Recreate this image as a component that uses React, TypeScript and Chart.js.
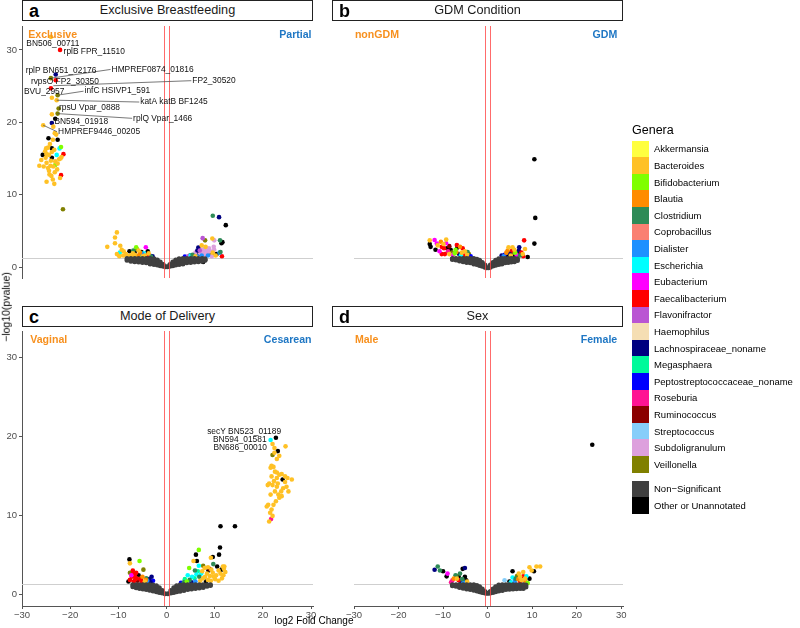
import React, { useEffect, useRef } from 'react';
import { Chart, registerables } from 'chart.js';
Chart.register(...registerables);

const FONT = '"Liberation Sans", Arial, Helvetica, sans-serif';

const GENERA = ['Akkermansia', 'Bacteroides', 'Bifidobacterium', 'Blautia', 'Clostridium', 'Coprobacillus', 'Dialister', 'Escherichia', 'Eubacterium', 'Faecalibacterium', 'Flavonifractor', 'Haemophilus', 'Lachnospiraceae_noname', 'Megasphaera', 'Peptostreptococcaceae_noname', 'Roseburia', 'Ruminococcus', 'Streptococcus', 'Subdoligranulum', 'Veillonella'];
const GENUS_CODES = ['Akk', 'Bac', 'Bif', 'Bla', 'Clo', 'Cop', 'Dia', 'Esc', 'Eub', 'Fae', 'Fla', 'Hae', 'Lac', 'Meg', 'Pep', 'Ros', 'Rum', 'Str', 'Sub', 'Vei'];
const GENUS_COLORS = ['#FFFF40', '#FFC125', '#7FFF00', '#FF8C00', '#2E8B57', '#FA8072', '#1E90FF', '#00FFFF', '#FF00FF', '#FF0000', '#BA55D3', '#F5DEB3', '#000080', '#00FA9A', '#0000FF', '#FF1493', '#8B0000', '#87CEFA', '#DDA0DD', '#808000'];
const EXTRA_KEYS = ['Non\u2212Significant', 'Other or Unannotated'];
const EXTRA_COLORS = ['#404040', '#000000'];

const X_TICKS = [-30, -20, -10, 0, 10, 20, 30];
const Y_TICKS = [0, 10, 20, 30];
const FC_CUTOFFS = [-0.585, 0.585];
const P_CUTOFF = 1.3;

type GP = [number, number];
type Pt = [number, number, string];
type Lab = [string, number, number, number, number, boolean];

// ---------- non-significant (grey) points ----------
const GREY_A: GP[] = [
  [-8.2, 1.2], [-8.2, 0.95], [-7.4, 1.2], [-7.4, 0.95], [-7.4, 0.8], [-6.6, 1.2], [-6.6, 0.95], [-6.6, 0.75],
  [-5.8, 1.2], [-5.8, 0.95], [-5.8, 0.7], [-5.0, 1.2], [-5.0, 0.9], [-5.0, 0.65], [-4.2, 1.2], [-4.2, 0.9], [-4.2, 0.6],
  [-3.4, 1.2], [-3.4, 0.9], [-3.4, 0.6], [-3.4, 0.45], [-2.6, 1.15], [-2.6, 0.85], [-2.6, 0.6], [-2.6, 0.38],
  [-1.9, 1.0], [-1.9, 0.7], [-1.9, 0.45], [-1.9, 0.28], [-1.3, 0.7], [-1.3, 0.45], [-1.3, 0.2], [-0.7, 0.38], [-0.7, 0.12],
  [-0.2, 0.05], [0.2, 0.05], [0.7, 0.38], [0.7, 0.12], [1.3, 0.7], [1.3, 0.45], [1.3, 0.2],
  [1.9, 1.0], [1.9, 0.7], [1.9, 0.45], [1.9, 0.28], [2.6, 1.15], [2.6, 0.85], [2.6, 0.6], [2.6, 0.38],
  [3.4, 1.2], [3.4, 0.9], [3.4, 0.6], [3.4, 0.45], [4.2, 1.2], [4.2, 0.9], [4.2, 0.6], [5.0, 1.2], [5.0, 0.9], [5.0, 0.65],
  [5.8, 1.2], [5.8, 0.95], [5.8, 0.7], [6.6, 1.2], [6.6, 0.95], [6.6, 0.75], [7.4, 1.2], [7.4, 0.95], [7.4, 0.8],
  [8.0, 1.15], [8.0, 0.95],
];
const GREY_B: GP[] = [
  [-7.9, 1.2], [-7.9, 1.05], [-7.1, 1.2], [-7.1, 1.0], [-6.3, 1.2], [-6.3, 0.95], [-6.3, 0.85],
  [-5.5, 1.2], [-5.5, 0.95], [-5.5, 0.75], [-4.7, 1.2], [-4.7, 0.9], [-4.7, 0.65], [-3.9, 1.2], [-3.9, 0.9], [-3.9, 0.6],
  [-3.1, 1.2], [-3.1, 0.9], [-3.1, 0.6], [-3.1, 0.45], [-2.4, 1.1], [-2.4, 0.85], [-2.4, 0.6], [-2.4, 0.35],
  [-1.8, 0.95], [-1.8, 0.7], [-1.8, 0.45], [-1.8, 0.22], [-1.2, 0.65], [-1.2, 0.4], [-1.2, 0.12], [-0.6, 0.3], [-0.6, 0.0],
  [-0.2, -0.1], [0.2, -0.1], [0.6, 0.3], [0.6, 0.0], [1.2, 0.65], [1.2, 0.4], [1.2, 0.15],
  [1.8, 0.95], [1.8, 0.7], [1.8, 0.45], [1.8, 0.25], [2.5, 1.15], [2.5, 0.85], [2.5, 0.6], [2.5, 0.38],
  [3.2, 1.2], [3.2, 0.9], [3.2, 0.6], [3.2, 0.45], [3.9, 1.2], [3.9, 0.9], [3.9, 0.6], [4.6, 1.2], [4.6, 0.9], [4.6, 0.65],
  [5.3, 1.2], [5.3, 0.95], [5.3, 0.7], [6.0, 1.2], [6.0, 0.95], [6.0, 0.75], [6.7, 1.15], [6.7, 0.9],
];
const GREY_C: GP[] = [
  [-7.0, 1.2], [-7.0, 0.95], [-6.3, 1.2], [-6.3, 0.95], [-6.3, 0.8], [-5.6, 1.2], [-5.6, 0.95], [-5.6, 0.72],
  [-4.9, 1.2], [-4.9, 0.9], [-4.9, 0.65], [-4.2, 1.2], [-4.2, 0.9], [-4.2, 0.6], [-3.5, 1.2], [-3.5, 0.9], [-3.5, 0.6], [-3.5, 0.48],
  [-2.8, 1.15], [-2.8, 0.85], [-2.8, 0.6], [-2.8, 0.4], [-2.1, 1.05], [-2.1, 0.78], [-2.1, 0.5], [-2.1, 0.3],
  [-1.5, 0.8], [-1.5, 0.5], [-1.5, 0.22], [-0.9, 0.45], [-0.9, 0.15], [-0.3, 0.05], [0.3, 0.05], [0.9, 0.45], [0.9, 0.15],
  [1.5, 0.8], [1.5, 0.5], [1.5, 0.22], [2.1, 1.05], [2.1, 0.78], [2.1, 0.5], [2.1, 0.3],
  [2.8, 1.15], [2.8, 0.85], [2.8, 0.6], [2.8, 0.38], [3.6, 1.2], [3.6, 0.9], [3.6, 0.6], [3.6, 0.45],
  [4.4, 1.2], [4.4, 0.9], [4.4, 0.6], [5.2, 1.2], [5.2, 0.9], [5.2, 0.65], [6.0, 1.2], [6.0, 0.95], [6.0, 0.7],
  [6.8, 1.2], [6.8, 0.95], [6.8, 0.78], [7.6, 1.2], [7.6, 1.0], [7.6, 0.85], [8.4, 1.2], [8.4, 1.0], [9.1, 1.2], [9.1, 1.08],
];
const GREY_D: GP[] = [
  [-7.9, 1.2], [-7.9, 1.05], [-7.1, 1.2], [-7.1, 1.0], [-6.3, 1.2], [-6.3, 0.95], [-6.3, 0.85],
  [-5.5, 1.2], [-5.5, 0.95], [-5.5, 0.75], [-4.7, 1.2], [-4.7, 0.9], [-4.7, 0.65], [-3.9, 1.2], [-3.9, 0.9], [-3.9, 0.6],
  [-3.1, 1.2], [-3.1, 0.9], [-3.1, 0.6], [-3.1, 0.48], [-2.4, 1.1], [-2.4, 0.85], [-2.4, 0.6], [-2.4, 0.4],
  [-1.8, 0.95], [-1.8, 0.7], [-1.8, 0.45], [-1.8, 0.3], [-1.2, 0.65], [-1.2, 0.4], [-1.2, 0.2], [-0.6, 0.35], [-0.6, 0.15],
  [-0.2, 0.1], [0.2, 0.1], [0.6, 0.35], [0.6, 0.15], [1.2, 0.65], [1.2, 0.4], [1.2, 0.2],
  [1.8, 0.95], [1.8, 0.7], [1.8, 0.45], [1.8, 0.3], [2.5, 1.15], [2.5, 0.85], [2.5, 0.6], [2.5, 0.4],
  [3.3, 1.2], [3.3, 0.9], [3.3, 0.6], [3.3, 0.45], [4.1, 1.2], [4.1, 0.9], [4.1, 0.6], [4.9, 1.2], [4.9, 0.9], [4.9, 0.62],
  [5.7, 1.2], [5.7, 0.95], [5.7, 0.65], [6.5, 1.2], [6.5, 0.95], [6.5, 0.68], [7.3, 1.2], [7.3, 0.95], [7.3, 0.7],
  [8.0, 1.2], [8.0, 0.95], [8.0, 0.72], [8.6, 1.15], [8.6, 0.9],
];

// ---------- significant points [log2FC, -log10 p, genus] ----------
const PTS_A: Pt[] = [
  [-24.0, 31.8, 'Bac'], [-22.1, 30.0, 'Fae'], [-23.0, 26.6, 'Lac'], [-24.0, 26.1, 'Vei'], [-23.0, 25.8, 'Fae'],
  [-24.0, 24.7, 'Fae'], [-22.6, 23.75, 'Vei'], [-23.8, 23.4, 'Bac'], [-22.8, 23.05, 'Bac'], [-22.4, 21.9, 'Vei'],
  [-22.6, 21.2, 'Vei'], [-23.8, 21.1, 'Bac'], [-23.1, 20.5, 'Oth'], [-23.8, 19.9, 'Lac'], [-25.6, 19.6, 'Bac'],
  [-23.5, 19.4, 'Bac'], [-22.9, 18.3, 'Bac'], [-23.2, 18.5, 'Bac'], [-24.5, 17.8, 'Oth'], [-22.6, 17.6, 'Oth'],
  [-23.6, 17.6, 'Bac'], [-24.2, 17.0, 'Bac'], [-25.0, 16.4, 'Bac'], [-21.9, 16.6, 'Bif'], [-22.2, 16.4, 'Esc'],
  [-26.4, 14.0, 'Bac'], [-26.0, 14.8, 'Bac'], [-25.7, 15.5, 'Oth'], [-25.2, 16.0, 'Bac'], [-24.6, 16.5, 'Bac'],
  [-23.8, 16.4, 'Oth'], [-24.9, 15.6, 'Bac'], [-24.4, 15.5, 'Bac'], [-23.8, 15.9, 'Bac'], [-23.3, 16.2, 'Bac'],
  [-23.8, 15.1, 'Oth'], [-22.8, 15.5, 'Esc'], [-21.4, 15.6, 'Fae'], [-21.8, 15.2, 'Bac'], [-22.3, 14.9, 'Bac'],
  [-23.1, 14.1, 'Bif'], [-23.1, 14.6, 'Bac'], [-22.6, 14.3, 'Bac'], [-23.5, 13.9, 'Bac'], [-24.1, 14.0, 'Bac'],
  [-24.6, 13.7, 'Bac'], [-25.5, 13.9, 'Bac'], [-24.9, 14.4, 'Bac'], [-24.0, 14.7, 'Bac'], [-25.1, 15.1, 'Bac'],
  [-22.0, 15.0, 'Bac'], [-24.3, 12.8, 'Bac'], [-21.9, 12.7, 'Fae'], [-22.1, 12.3, 'Bac'], [-24.9, 11.8, 'Bac'],
  [-23.6, 12.1, 'Bac'], [-23.3, 11.5, 'Bac'], [-23.9, 12.6, 'Bac'], [-24.4, 13.3, 'Bac'], [-22.7, 13.5, 'Bac'],
  [-23.2, 13.1, 'Bac'], [-21.5, 8.0, 'Vei'],
  [-12.3, 2.8, 'Bac'], [-10.3, 4.8, 'Bac'], [-10.7, 4.1, 'Bac'], [-10.7, 3.3, 'Bac'], [-9.6, 2.95, 'Bac'],
  [-9.3, 2.4, 'Bac'], [-8.9, 2.2, 'Bac'], [-10.3, 1.8, 'Bac'], [-9.7, 2.0, 'Esc'], [-9.0, 1.6, 'Bac'],
  [-9.8, 1.5, 'Bac'], [-7.7, 2.2, 'Oth'], [-6.3, 2.75, 'Bif'], [-6.2, 2.5, 'Vei'], [-4.3, 2.75, 'Eub'],
  [-3.9, 2.2, 'Oth'], [-5.5, 2.0, 'Bla'], [-5.0, 1.8, 'Dia'], [-2.9, 1.5, 'Lac'], [-7.0, 1.9, 'Bac'],
  [-6.6, 1.7, 'Bac'], [-7.5, 1.6, 'Bac'], [-8.0, 1.5, 'Bac'], [-5.9, 1.6, 'Bla'], [-4.7, 1.9, 'Esc'],
  [-4.5, 1.6, 'Bac'], [-5.2, 2.1, 'Oth'], [-4.0, 1.7, 'Fae'], [-3.5, 1.6, 'Pep'], [-6.9, 2.3, 'Clo'],
  [-8.4, 1.8, 'Bac'], [-6.6, 2.1, 'Oth'], [-5.8, 2.3, 'Bac'], [-3.2, 1.45, 'Clo'], [-4.9, 1.5, 'Bac'],
  [-6.2, 1.5, 'Dia'], [-7.3, 1.45, 'Bac'], [-5.3, 1.5, 'Meg'], [-3.7, 1.9, 'Bac'],
  [9.6, 7.1, 'Clo'], [10.9, 6.9, 'Lac'], [12.3, 5.8, 'Oth'], [7.5, 4.0, 'Fla'], [8.0, 3.7, 'Vei'],
  [9.5, 3.96, 'Bac'], [9.9, 3.7, 'Sub'], [11.1, 3.7, 'Clo'], [11.4, 3.3, 'Oth'], [11.6, 3.45, 'Oth'],
  [11.5, 1.5, 'Fae'], [10.4, 1.8, 'Oth'], [9.4, 1.9, 'Oth'], [11.0, 2.0, 'Dia'], [11.2, 2.1, 'Clo'],
  [7.6, 0.7, 'Oth'], [8.0, 1.0, 'Oth'], [6.6, 2.7, 'Lac'], [7.3, 3.0, 'Bac'], [7.2, 2.4, 'Sub'],
  [7.8, 2.5, 'Sub'], [8.3, 2.3, 'Sub'], [8.8, 2.6, 'Sub'], [7.6, 2.0, 'Sub'], [8.5, 2.0, 'Sub'],
  [9.1, 2.2, 'Sub'], [8.1, 2.8, 'Bac'], [9.8, 2.8, 'Sub'], [6.9, 2.3, 'Fla'], [9.6, 2.0, 'Bac'],
  [9.1, 1.8, 'Vei'], [6.6, 1.8, 'Oth'], [6.4, 2.3, 'Lac'], [8.6, 1.6, 'Dia'], [7.3, 1.6, 'Dia'],
  [5.0, 1.6, 'Esc'], [5.4, 1.7, 'Clo'], [6.0, 1.5, 'Bac'], [4.5, 1.5, 'Fla'], [4.9, 1.6, 'Oth'],
  [6.3, 1.5, 'Dia'], [10.2, 1.6, 'Bac'], [9.4, 1.5, 'Sub'], [8.2, 1.7, 'Sub'], [7.0, 1.9, 'Sub'],
  [9.9, 2.4, 'Sub'], [6.0, 2.0, 'Sub'], [3.8, 1.45, 'Pep'],
];
const PTS_B: Pt[] = [
  [10.5, 14.9, 'Oth'], [10.7, 6.8, 'Oth'], [10.5, 3.25, 'Oth'], [9.0, 1.4, 'Oth'], [8.2, 3.7, 'Fae'],
  [8.4, 2.5, 'Bac'], [4.7, 2.75, 'Bac'], [5.6, 2.75, 'Bac'], [7.1, 2.75, 'Lac'], [7.0, 2.3, 'Lac'],
  [6.8, 2.0, 'Oth'], [7.6, 2.0, 'Fae'], [4.5, 2.3, 'Bla'], [3.15, 1.6, 'Lac'], [3.8, 1.7, 'Pep'],
  [5.2, 1.6, 'Bac'], [5.9, 1.6, 'Oth'], [6.2, 2.0, 'Bif'], [5.7, 2.0, 'Vei'], [7.3, 1.6, 'Clo'],
  [6.5, 1.7, 'Eub'], [4.2, 2.0, 'Bla'], [5.0, 1.9, 'Lac'], [7.9, 1.8, 'Bac'], [3.6, 1.5, 'Dia'],
  [6.0, 2.4, 'Bac'], [4.4, 1.5, 'Oth'], [8.0, 1.5, 'Fae'], [5.5, 2.3, 'Fae'],
  [-13.0, 3.7, 'Bac'], [-11.9, 3.75, 'Eub'], [-13.0, 3.2, 'Oth'], [-11.7, 2.4, 'Oth'], [-9.3, 3.8, 'Bac'],
  [-10.5, 3.5, 'Bla'], [-9.3, 3.3, 'Eub'], [-10.3, 2.8, 'Fae'], [-9.8, 2.6, 'Fae'], [-9.1, 2.6, 'Oth'],
  [-8.3, 2.4, 'Oth'], [-7.2, 2.4, 'Bif'], [-6.2, 2.8, 'Bla'], [-6.9, 3.05, 'Fae'], [-6.8, 2.7, 'Oth'],
  [-5.6, 2.6, 'Fae'], [-10.3, 1.8, 'Fae'], [-9.6, 1.8, 'Fae'], [-11.4, 3.25, 'Eub'], [-12.8, 2.8, 'Oth'],
  [-11.2, 3.0, 'Bac'], [-8.0, 2.0, 'Vei'], [-8.6, 1.8, 'Bac'], [-7.4, 1.9, 'Bif'], [-5.1, 2.2, 'Bac'],
  [-4.5, 2.1, 'Clo'], [-7.0, 2.1, 'Bla'], [-7.8, 1.7, 'Eub'], [-6.4, 1.8, 'Lac'], [-4.6, 1.7, 'Bac'],
  [-4.2, 1.8, 'Vei'], [-3.8, 1.5, 'Pep'], [-4.2, 1.45, 'Oth'], [-8.9, 2.2, 'Ros'], [-5.8, 2.0, 'Bac'],
  [-6.0, 1.6, 'Esc'], [-10.8, 2.2, 'Eub'], [-9.9, 3.2, 'Bac'], [-8.6, 2.9, 'Rum'], [-5.2, 1.6, 'Fae'],
];
const PTS_C: Pt[] = [
  [22.7, 19.8, 'Oth'], [21.6, 19.5, 'Esc'], [22.0, 19.0, 'Bac'], [22.4, 18.5, 'Bac'], [23.1, 18.1, 'Oth'],
  [24.7, 18.7, 'Bac'], [22.0, 17.6, 'Vei'], [23.4, 17.5, 'Bac'], [22.4, 17.9, 'Bac'], [22.9, 17.1, 'Bac'],
  [21.8, 16.25, 'Bac'], [22.2, 16.1, 'Bac'], [21.6, 16.0, 'Bac'], [22.5, 15.5, 'Bac'], [21.8, 14.9, 'Bac'],
  [22.9, 15.4, 'Bac'], [23.4, 15.1, 'Bac'], [23.9, 15.2, 'Bac'], [24.6, 14.9, 'Bac'], [22.9, 14.7, 'Bac'],
  [22.3, 14.3, 'Bac'], [21.3, 14.0, 'Bac'], [21.0, 13.8, 'Bac'], [22.0, 13.8, 'Bac'], [23.1, 14.0, 'Bac'],
  [24.1, 14.5, 'Oth'], [25.1, 14.7, 'Bac'], [26.0, 14.5, 'Bac'], [24.6, 14.2, 'Bac'], [24.9, 13.6, 'Bac'],
  [25.3, 13.0, 'Bac'], [24.2, 13.4, 'Bac'], [23.8, 13.0, 'Bac'], [23.2, 12.6, 'Bac'], [23.9, 12.4, 'Bac'],
  [23.4, 12.2, 'Bac'], [22.7, 11.75, 'Bac'], [22.2, 11.3, 'Bac'], [21.1, 11.3, 'Bac'], [20.8, 11.1, 'Bac'],
  [21.8, 10.7, 'Bac'], [21.5, 10.3, 'Bac'], [22.0, 9.9, 'Bac'], [21.7, 9.5, 'Ros'], [21.3, 9.2, 'Bac'],
  [22.9, 13.6, 'Bac'], [22.5, 13.0, 'Bac'], [21.6, 12.6, 'Bac'],
  [11.2, 8.6, 'Oth'], [14.2, 8.6, 'Oth'], [11.1, 5.9, 'Oth'], [6.7, 5.6, 'Bif'], [6.1, 5.0, 'Oth'],
  [9.6, 4.7, 'Oth'], [10.9, 5.0, 'Oth'], [9.2, 4.6, 'Bac'], [5.6, 4.2, 'Bac'], [6.3, 4.2, 'Oth'],
  [4.7, 3.3, 'Bif'], [6.7, 3.6, 'Esc'], [7.6, 3.6, 'Vei'], [8.7, 3.0, 'Oth'], [8.9, 3.2, 'Rum'],
  [9.7, 3.8, 'Clo'], [10.5, 3.5, 'Oth'], [11.7, 3.5, 'Bac'], [11.9, 3.2, 'Bac'], [11.4, 3.1, 'Oth'],
  [10.8, 3.0, 'Bac'], [11.2, 2.6, 'Bac'], [11.8, 2.4, 'Bac'], [10.3, 2.4, 'Bac'], [9.6, 2.7, 'Bac'],
  [9.0, 2.3, 'Bac'], [8.4, 2.6, 'Bac'], [8.0, 2.2, 'Bac'], [10.1, 1.9, 'Bac'], [9.2, 1.7, 'Bac'],
  [10.8, 1.7, 'Bac'], [8.6, 1.8, 'Bac'], [7.6, 2.0, 'Bac'], [7.2, 2.6, 'Esc'], [6.8, 2.2, 'Clo'],
  [6.2, 2.5, 'Esc'], [5.8, 2.0, 'Meg'], [5.3, 2.2, 'Esc'], [4.8, 1.8, 'Clo'], [4.2, 1.6, 'Bif'],
  [3.6, 1.5, 'Clo'], [3.0, 1.45, 'Pep'], [5.9, 3.0, 'Clo'], [6.5, 2.9, 'Meg'], [7.9, 3.3, 'Bac'],
  [8.2, 1.6, 'Oth'], [7.0, 1.7, 'Bac'], [6.0, 1.6, 'Dia'], [5.2, 1.5, 'Lac'], [9.8, 2.2, 'Bac'],
  [11.5, 2.0, 'Bac'], [12.2, 2.8, 'Bac'], [12.0, 3.5, 'Bac'], [7.4, 2.9, 'Bac'], [8.6, 3.4, 'Bac'],
  [9.3, 3.1, 'Bac'], [4.4, 2.4, 'Esc'], [3.8, 1.9, 'Meg'],
  [-7.7, 4.4, 'Oth'], [-5.6, 4.2, 'Bif'], [-7.6, 3.9, 'Bac'], [-4.8, 3.1, 'Vei'], [-7.0, 3.0, 'Fae'],
  [-7.6, 2.7, 'Vei'], [-6.6, 2.3, 'Fae'], [-7.2, 2.2, 'Fae'], [-6.2, 2.0, 'Fae'], [-5.4, 1.9, 'Fae'],
  [-7.6, 1.8, 'Fae'], [-5.0, 2.2, 'Bla'], [-3.1, 2.2, 'Lac'], [-3.6, 1.9, 'Lac'], [-2.8, 1.7, 'Pep'],
  [-4.2, 2.0, 'Clo'], [-5.8, 2.4, 'Oth'], [-4.5, 1.6, 'Bac'], [-6.8, 1.6, 'Fae'], [-7.9, 1.6, 'Oth'],
  [-4.0, 1.7, 'Dia'], [-6.0, 1.7, 'Rum'], [-3.3, 1.5, 'Lac'], [-5.3, 2.0, 'Vei'], [-4.3, 1.8, 'Bla'],
  [-6.9, 2.6, 'Fae'], [-6.3, 2.7, 'Fae'], [-7.3, 2.4, 'Eub'], [-5.1, 1.6, 'Fae'], [-6.5, 1.9, 'Fae'],
];
const PTS_D: Pt[] = [
  [23.5, 18.9, 'Oth'],
  [-11.9, 3.08, 'Lac'], [-11.2, 3.5, 'Clo'], [-10.7, 3.0, 'Clo'], [-10.0, 2.9, 'Oth'], [-9.0, 2.6, 'Eub'],
  [-9.2, 2.25, 'Oth'], [-5.1, 3.3, 'Lac'], [-5.6, 3.2, 'Oth'], [-6.2, 2.6, 'Clo'], [-7.2, 2.4, 'Clo'],
  [-6.9, 1.96, 'Bac'], [-6.5, 1.75, 'Fae'], [-7.9, 1.75, 'Ros'], [-5.1, 2.2, 'Oth'], [-4.8, 1.75, 'Oth'],
  [-4.6, 1.6, 'Bac'], [-6.1, 1.67, 'Lac'], [-6.5, 2.2, 'Oth'], [-7.0, 2.3, 'Vei'], [-7.6, 1.96, 'Bla'],
  [-5.7, 1.9, 'Clo'], [-8.2, 1.5, 'Ros'], [-5.4, 1.5, 'Dia'],
  [5.6, 2.9, 'Oth'], [9.4, 3.4, 'Bac'], [10.96, 3.5, 'Bac'], [11.8, 3.5, 'Bac'], [9.9, 3.0, 'Bac'],
  [6.6, 2.3, 'Vei'], [7.3, 2.2, 'Bac'], [7.6, 1.75, 'Bac'], [8.0, 2.25, 'Fae'], [7.3, 1.6, 'Fae'],
  [5.6, 2.1, 'Esc'], [8.7, 2.25, 'Esc'], [3.8, 1.75, 'Str'], [9.0, 1.4, 'Bif'], [9.4, 1.96, 'Oth'],
  [10.4, 2.9, 'Oth'], [6.3, 1.96, 'Clo'], [8.4, 1.96, 'Bac'], [6.9, 1.9, 'Bla'], [8.0, 2.8, 'Bac'],
  [4.9, 1.6, 'Oth'], [6.1, 1.67, 'Dia'], [7.0, 2.6, 'Bac'], [8.5, 1.6, 'Bla'], [5.2, 1.5, 'Esc'],
];

// ---------- gene labels [text, pointX, pointY, labelX, labelY, leader] ----------
const LABELS_A: Lab[] = [
  ['BN506_00711', -24.0, 31.8, -23.6, 30.9, false],
  ['rplB FPR_11510', -22.1, 30.0, -15.0, 29.8, false],
  ['rplP BN651_02176', -23.0, 26.6, -21.9, 27.1, false],
  ['HMPREF0874_01816', -24.0, 26.1, -2.9, 27.3, true],
  ['rvpsO FP2_30350', -23.0, 25.8, -21.1, 25.55, false],
  ['FP2_30520', -23.5, 25.05, 9.85, 25.75, true],
  ['BVU_2957', -24.0, 24.7, -25.4, 24.2, false],
  ['infC HSIVP1_591', -22.6, 23.75, -10.2, 24.3, true],
  ['katA katB BF1245', -22.8, 23.05, 1.55, 22.8, true],
  ['rpsU Vpar_0888', -22.4, 21.9, -16.0, 21.96, false],
  ['rplQ Vpar_1466', -22.6, 21.2, -0.8, 20.55, true],
  ['BN594_01918', -23.8, 19.9, -17.7, 20.05, false],
  ['HMPREF9446_00205', -25.6, 19.6, -14.0, 18.7, true],
];
const LABELS_C: Lab[] = [
  ['secY BN523_01189', 22.7, 19.8, 16.1, 20.6, false],
  ['BN594_01581', 21.6, 19.5, 15.2, 19.6, false],
  ['BN686_00010', 23.1, 18.1, 15.3, 18.5, false],
];

const X_MIN = -30, X_MAX = 30.4, Y_MIN = -1.5, Y_MAX = 33.3;
const LEFT_COLOR = '#F7901E';
const RIGHT_COLOR = '#1F77C4';

type Panel = {
  key: string; title: string; groups: [string, string]; groupX: [number, number];
  grey: GP[]; pts: Pt[]; labels: Lab[];
  left: number; top: number; width: number; height: number; padL: number; showX: boolean; showY: boolean;
  strip: [number, number, number, number];
};

const PANELS: Panel[] = [
  { key: 'a', title: 'Exclusive Breastfeeding', groups: ['Exclusive', 'Partial'], groupX: [-28.7, 30.1], grey: GREY_A, pts: PTS_A, labels: LABELS_A,
    left: 0, top: 22, width: 323, height: 278, padL: 0, showX: false, showY: true, strip: [22, 0, 291, 21] },
  { key: 'b', title: 'GDM Condition', groups: ['nonGDM', 'GDM'], groupX: [-29.8, 29.1], grey: GREY_B, pts: PTS_B, labels: [],
    left: 322, top: 22, width: 311, height: 278, padL: 10, showX: false, showY: false, strip: [332, 0, 291, 21] },
  { key: 'c', title: 'Mode of Delivery', groups: ['Vaginal', 'Cesarean'], groupX: [-28.3, 30.1], grey: GREY_C, pts: PTS_C, labels: LABELS_C,
    left: 0, top: 327, width: 323, height: 301, padL: 0, showX: true, showY: true, strip: [22, 306, 291, 21] },
  { key: 'd', title: 'Sex', groups: ['Male', 'Female'], groupX: [-29.8, 29.1], grey: GREY_D, pts: PTS_D, labels: [],
    left: 322, top: 327, width: 311, height: 301, padL: 10, showX: true, showY: false, strip: [332, 306, 291, 21] },
];

const fmt = (v: number) => (v < 0 ? '\u2212' + Math.abs(v) : String(v));

function buildDatasets(p: Panel) {
  const ds: any[] = [{
    data: p.grey.map(([x, y]) => ({ x, y })), backgroundColor: EXTRA_COLORS[0], pointRadius: 2.5, pointBorderWidth: 0,
  }];
  const codes = [...GENUS_CODES, 'Oth'];
  codes.forEach((c, i) => {
    const sel = p.pts.filter((q) => q[2] === c);
    if (!sel.length) return;
    ds.push({
      data: sel.map(([x, y]) => ({ x, y })),
      backgroundColor: i < GENUS_CODES.length ? GENUS_COLORS[i] : EXTRA_COLORS[1],
      pointRadius: 2.3, pointBorderWidth: 0,
    });
  });
  return ds;
}

function panelPlugin(p: Panel) {
  return {
    id: 'panel_' + p.key,
    beforeDatasetsDraw(chart: any) {
      const { ctx, chartArea: a, scales } = chart;
      const yy = Math.round(scales.y.getPixelForValue(P_CUTOFF)) + 0.5;
      ctx.save();
      ctx.strokeStyle = '#CFCFCF';
      ctx.lineWidth = 1;
      ctx.beginPath(); ctx.moveTo(a.left, yy); ctx.lineTo(a.right, yy); ctx.stroke();
      ctx.restore();
    },
    afterDatasetsDraw(chart: any) {
      const { ctx, chartArea: a, scales } = chart;
      const X = (v: number) => scales.x.getPixelForValue(v);
      const Y = (v: number) => scales.y.getPixelForValue(v);
      ctx.save();
      ctx.strokeStyle = 'rgba(255,70,70,0.8)';
      ctx.lineWidth = 1;
      FC_CUTOFFS.forEach((v) => {
        const xx = Math.round(X(v)) + 0.5;
        ctx.beginPath(); ctx.moveTo(xx, a.top); ctx.lineTo(xx, a.bottom); ctx.stroke();
      });
      ctx.strokeStyle = '#555';
      ctx.lineWidth = 0.8;
      ctx.font = `8.4px ${FONT}`;
      p.labels.forEach(([t, px, py, lx, ly, lead]) => {
        if (!lead) return;
        const w = ctx.measureText(t).width;
        ctx.beginPath(); ctx.moveTo(X(px), Y(py)); ctx.lineTo(X(lx) - w / 2 - 1, Y(ly)); ctx.stroke();
      });
      ctx.fillStyle = '#111';
      ctx.textAlign = 'center';
      ctx.textBaseline = 'middle';
      p.labels.forEach(([t, , , lx, ly]) => ctx.fillText(t, X(lx), Y(ly)));
      ctx.font = `bold 10.6px ${FONT}`;
      ctx.fillStyle = LEFT_COLOR;
      ctx.textAlign = 'left';
      ctx.fillText(p.groups[0], X(p.groupX[0]), Y(32.1));
      ctx.fillStyle = RIGHT_COLOR;
      ctx.textAlign = 'right';
      ctx.fillText(p.groups[1], X(p.groupX[1]), Y(32.1));
      ctx.restore();
    },
  };
}

function buildConfig(p: Panel): any {
  const axisColor = '#555';
  return {
    type: 'scatter',
    data: { datasets: buildDatasets(p) },
    options: {
      animation: false,
      responsive: false,
      maintainAspectRatio: false,
      events: [],
      layout: { padding: { left: p.padL, right: 10, top: 0, bottom: 0 } },
      plugins: { legend: { display: false }, tooltip: { enabled: false } },
      scales: {
        x: {
          type: 'linear', min: X_MIN, max: X_MAX, display: p.showX,
          afterBuildTicks: (s: any) => { s.ticks = X_TICKS.map((v) => ({ value: v })); },
          afterFit: (s: any) => { s.height = 22; s.paddingLeft = 0; s.paddingRight = 0; s.paddingTop = 0; s.paddingBottom = 0; },
          grid: { display: true, drawOnChartArea: false, drawTicks: true, tickLength: 3, color: axisColor },
          border: { display: true, color: axisColor, width: 1 },
          ticks: { font: { family: FONT, size: 9.5 }, color: '#4D4D4D', padding: 1, maxRotation: 0, autoSkip: false, callback: (v: number) => fmt(v) },
        },
        y: {
          type: 'linear', min: Y_MIN, max: Y_MAX, display: p.showY,
          afterBuildTicks: (s: any) => { s.ticks = Y_TICKS.map((v) => ({ value: v })); },
          afterFit: (s: any) => { s.width = 22; s.paddingLeft = 0; s.paddingRight = 0; s.paddingTop = 0; s.paddingBottom = 0; },
          grid: { display: true, drawOnChartArea: false, drawTicks: true, tickLength: 3, color: axisColor },
          border: { display: true, color: axisColor, width: 1 },
          ticks: { font: { family: FONT, size: 9.5 }, color: '#4D4D4D', padding: 2, autoSkip: false, callback: (v: number) => fmt(v) },
        },
      },
    },
    plugins: [panelPlugin(p)],
  };
}

export default function App() {
  const canvases = useRef<(HTMLCanvasElement | null)[]>([]);
  useEffect(() => {
    const charts = PANELS.map((p, i) => new Chart(canvases.current[i] as HTMLCanvasElement, buildConfig(p)));
    return () => charts.forEach((c) => c.destroy());
  }, []);

  const legendTop = 140.6;
  const keyH = 16.6;
  return (
    <div style={{ position: 'absolute', left: 0, top: 0, width: 800, height: 628, background: '#fff', overflow: 'hidden', fontFamily: FONT, color: '#000' }}>
      {PANELS.map((p, i) => (
        <React.Fragment key={p.key}>
          <div style={{ position: 'absolute', left: p.strip[0], top: p.strip[1], width: p.strip[2], height: p.strip[3], boxSizing: 'border-box', border: '1px solid #222', background: '#fff' }}>
            <div style={{ position: 'absolute', left: 6, top: 0, height: '100%', display: 'flex', alignItems: 'center', fontWeight: 'bold', fontSize: 18, lineHeight: 1 }}>{p.key}</div>
            <div style={{ position: 'absolute', left: 0, right: 0, top: 0, height: '100%', display: 'flex', alignItems: 'center', justifyContent: 'center', fontSize: 12.7, lineHeight: 1, color: '#1a1a1a' }}>{p.title}</div>
          </div>
          <canvas
            ref={(el) => { canvases.current[i] = el; }}
            width={p.width}
            height={p.height}
            style={{ position: 'absolute', left: p.left, top: p.top, width: p.width, height: p.height }}
          />
        </React.Fragment>
      ))}
      <div style={{ position: 'absolute', left: 6, top: 307, transform: 'translate(-50%, -50%) rotate(-90deg)', whiteSpace: 'nowrap', fontSize: 10.5, lineHeight: 1 }}>{'\u2212log10(pvalue)'}</div>
      <div style={{ position: 'absolute', left: 314, top: 621, transform: 'translate(-50%, -50%)', whiteSpace: 'nowrap', fontSize: 10, lineHeight: 1 }}>log2 Fold Change</div>
      <div style={{ position: 'absolute', left: 632, top: legendTop - 17, fontSize: 12.5, lineHeight: 1 }}>Genera</div>
      {GENERA.map((g, i) => (
        <React.Fragment key={g}>
          <div style={{ position: 'absolute', left: 632, top: legendTop + i * keyH, width: 17, height: keyH, background: GENUS_COLORS[i] }} />
          <div style={{ position: 'absolute', left: 654, top: legendTop + i * keyH, height: keyH, display: 'flex', alignItems: 'center', fontSize: 9.5, whiteSpace: 'nowrap' }}>{g}</div>
        </React.Fragment>
      ))}
      {EXTRA_KEYS.map((g, i) => (
        <React.Fragment key={g}>
          <div style={{ position: 'absolute', left: 632, top: 480.7 + i * keyH, width: 17, height: keyH, background: EXTRA_COLORS[i] }} />
          <div style={{ position: 'absolute', left: 654, top: 480.7 + i * keyH, height: keyH, display: 'flex', alignItems: 'center', fontSize: 9.5, whiteSpace: 'nowrap' }}>{g}</div>
        </React.Fragment>
      ))}
    </div>
  );
}
